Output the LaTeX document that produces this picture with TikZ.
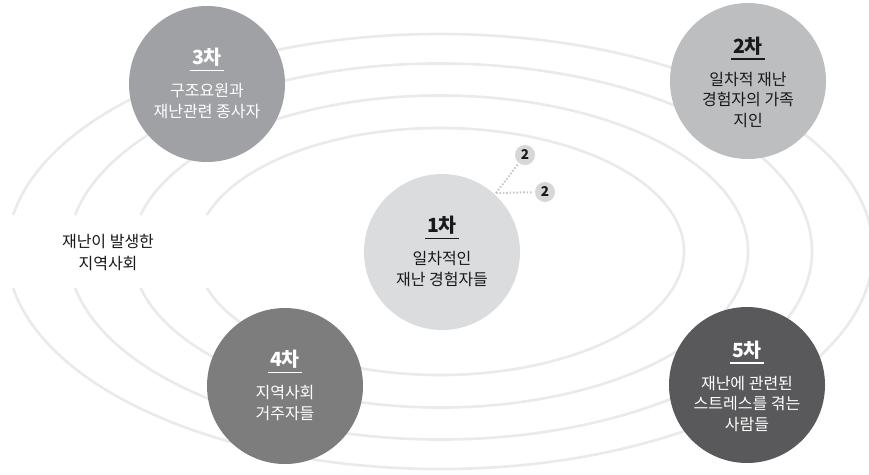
\documentclass[tikz,border=0pt]{standalone}
\usepackage{fontspec}
\setmainfont{Noto Sans CJK KR}
\usetikzlibrary{calc}
\definecolor{ringc}{RGB}{234,234,234}
\definecolor{cone}{RGB}{219,220,221}
\definecolor{ctwo}{RGB}{189,190,192}
\definecolor{cthree}{RGB}{160,161,164}
\definecolor{cfour}{RGB}{125,125,125}
\definecolor{cfive}{RGB}{89,89,91}
\definecolor{badgec}{RGB}{214,215,216}
\definecolor{dotc}{RGB}{200,200,200}
\definecolor{ink}{RGB}{25,25,25}
\begin{document}
\begin{tikzpicture}[x=1pt, y=-1pt,
  ring/.style={draw=ringc, line width=2.6pt},
  disc/.style={circle, minimum size=156pt, inner sep=0pt, draw=none},
  ttl/.style={font=\fontsize{19.5}{19.5}\selectfont\bfseries, anchor=base, inner sep=0pt},
  body/.style={font=\fontsize{16}{16}\selectfont, anchor=base, inner sep=0pt},
  uline/.style={line width=1.5pt},
  badge/.style={circle, fill=badgec, minimum size=20pt, inner sep=0pt, text=ink, font=\fontsize{13.5}{13.5}\selectfont\bfseries},
  dotl/.style={draw=dotc, line width=2pt, dash pattern=on 1.6pt off 1.8pt}]
\useasboundingbox (0,0) rectangle (869,474);
\fill[white] (0,0) rectangle (869,474);
% rings
\coordinate (cen) at (440,251.5);
\foreach \ra/\rb in {244/123.5, 308/156, 372/188, 433/217.5}{
  \pgfmathsetmacro\ph{asin(36.5/\rb)}
  \draw[ring] (cen) ++({\ra*cos(180+\ph)},{\rb*sin(180+\ph)})
    arc[start angle={180+\ph}, end angle={540-\ph}, x radius=\ra, y radius=\rb];
}
% discs
\node[disc, fill=cone]   (c1) at (442,252) {};
\node[disc, fill=ctwo]   (c2) at (748,81)  {};
\node[disc, fill=cthree] (c3) at (207,84)  {};
\node[disc, fill=cfour]  (c4) at (285,386) {};
\node[disc, fill=cfive]  (c5) at (747,385) {};
% badges and dotted links
\node[badge] (b1) at (525,155) {2};
\node[badge] (b2) at (545,192) {2};
\coordinate (jn) at (496,193);
\draw[dotl, shorten >=1.5pt] (jn) -- (b1);
\draw[dotl, shorten >=1.5pt] (jn) -- (b2);
% disc 1
\node[ttl, text=ink] (t1) at ($(c1)+(0,-19.5)$) {1차};
\draw[uline, ink] ([xshift=-2pt,yshift=-6pt]t1.base west) -- ([xshift=2pt,yshift=-6pt]t1.base east);
\node[body, text=ink] (l1a) at ($(c1)+(0,12.5)$) {일차적인};
\node[body, text=ink] (l1b) at ($(c1)+(0,33)$) {재난 경험자들};
% disc 2
\node[ttl, text=ink] (t2) at ($(c2)+(0,-28)$) {2차};
\draw[uline, ink] ([xshift=-2pt,yshift=-6pt]t2.base west) -- ([xshift=2pt,yshift=-6pt]t2.base east);
\node[body, text=ink] (l2a) at ($(c2)+(0,4)$) {일차적 재난};
\node[body, text=ink] (l2b) at ($(c2)+(0,24.5)$) {경험자의 가족};
\node[body, text=ink] (l2c) at ($(c2)+(0,45)$) {지인};
% disc 3
\node[ttl, text=white] (t3) at ($(c3)+(0,-19.5)$) {3차};
\draw[uline, white] ([xshift=-2pt,yshift=-6pt]t3.base west) -- ([xshift=2pt,yshift=-6pt]t3.base east);
\node[body, text=white] (l3a) at ($(c3)+(0,12.5)$) {구조요원과};
\node[body, text=white] (l3b) at ($(c3)+(0,33)$) {재난관련 종사자};
% disc 4
\node[ttl, text=white] (t4) at ($(c4)+(0,-19.5)$) {4차};
\draw[uline, white] ([xshift=-2pt,yshift=-6pt]t4.base west) -- ([xshift=2pt,yshift=-6pt]t4.base east);
\node[body, text=white] (l4a) at ($(c4)+(0,12.5)$) {지역사회};
\node[body, text=white] (l4b) at ($(c4)+(0,33)$) {거주자들};
% disc 5
\node[ttl, text=white] (t5) at ($(c5)+(0,-28)$) {5차};
\draw[uline, white] ([xshift=-2pt,yshift=-6pt]t5.base west) -- ([xshift=2pt,yshift=-6pt]t5.base east);
\node[body, text=white] (l5a) at ($(c5)+(0,4)$) {재난에 관련된};
\node[body, text=white] (l5b) at ($(c5)+(0,24.5)$) {스트레스를 겪는};
\node[body, text=white] (l5c) at ($(c5)+(0,45)$) {사람들};
% community label
\node[body, text=ink] (ca) at (108,247) {재난이 발생한};
\node[body, text=ink] (cb) at (108,269) {지역사회};
\end{tikzpicture}
\end{document}
